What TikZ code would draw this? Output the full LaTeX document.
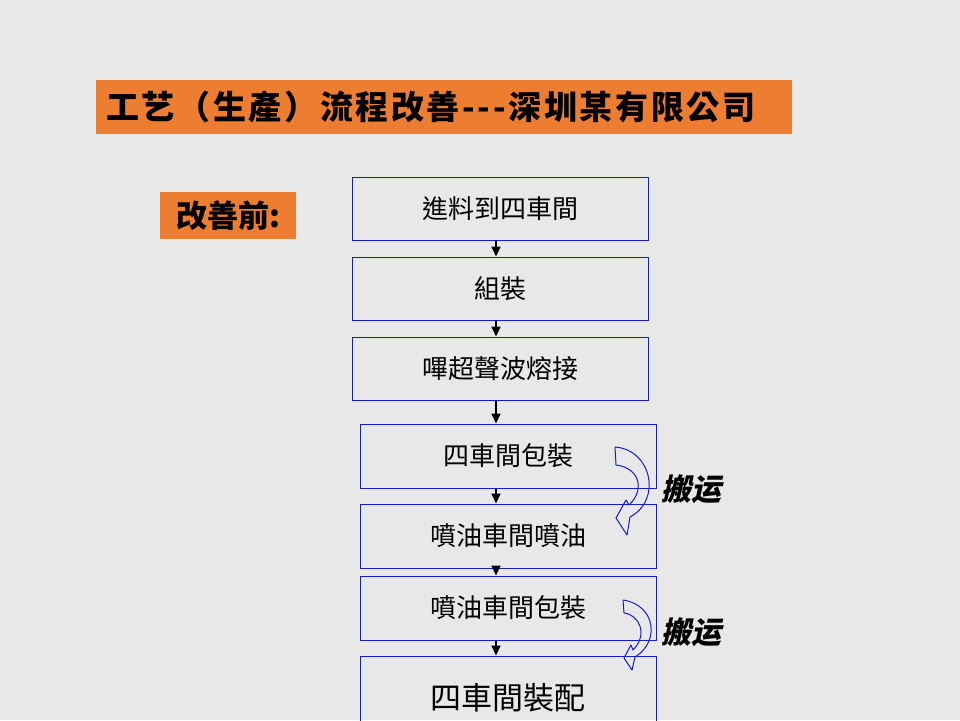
\documentclass[tikz,border=0pt]{standalone}
\usepackage{fontspec}
\usepackage{xcolor}
\usetikzlibrary{arrows.meta, positioning}
\newfontfamily\cjktc{Noto Sans CJK TC}
\newfontfamily\cjkwide[LetterSpace=8]{Noto Sans CJK TC}
\newfontfamily\cjkslant[FakeSlant=0.22]{Noto Sans CJK SC}
\definecolor{slidegray}{RGB}{232, 232, 232}
\definecolor{banner}{RGB}{237, 125, 49}
\definecolor{boxblue}{RGB}{20, 30, 200}

\begin{document}
\begin{tikzpicture}[
    x=1pt, y=-1pt,
    stepbox/.style={draw=boxblue, line width=1pt, minimum width=296pt, minimum height=64pt, inner sep=0pt, font=\cjktc\fontsize{26}{28}\selectfont},
    tag/.style={fill=banner, inner sep=0pt, font=\cjktc\bfseries},
    flow/.style={-{Triangle[length=10pt, width=9pt]}, line width=2pt},
    carry/.style={draw=boxblue, line width=1pt, line join=round},
    carrylabel/.style={font=\cjkslant\bfseries\fontsize{30}{32}\selectfont}
]
\useasboundingbox[fill=slidegray] (0,0) rectangle (960,720);

% Headings
\node[tag, minimum width=696pt, minimum height=54pt] (title) at (444,107) {};
\node[anchor=west, font=\cjkwide\bfseries\fontsize{33}{35}\selectfont, inner sep=0pt] (titletext) at (106,107) {工艺（生產）流程改善---深圳某有限公司};
\node[tag, minimum width=136pt, minimum height=47pt, font=\cjktc\bfseries\fontsize{31}{33}\selectfont] (before) at (228,215.5) {改善前:};

% Process steps
\node[stepbox, minimum height=63pt] (feed) at (500,208.5) {進料到四車間};
\node[stepbox, minimum height=63pt] (assemble) at (500,288.5) {組裝};
\node[stepbox, minimum height=63pt] (weld) at (500,368.5) {嗶超聲波熔接};
\node[stepbox] (pack4) at (508,456) {四車間包裝};
\node[stepbox] (spray) at (508,536) {噴油車間噴油};
\node[stepbox] (packspray) at (508,608) {噴油車間包裝};
\node[stepbox, minimum height=84pt, font=\cjktc\fontsize{31}{33}\selectfont] (fit) at (508,698) {四車間裝配};

% Flow arrows
\coordinate (axis) at (496,0);
\draw[flow] (feed.south -| axis) -- (assemble.north -| axis);
\draw[flow] (assemble.south -| axis) -- (weld.north -| axis);
\draw[flow] (weld.south -| axis) -- (pack4.north -| axis);
\draw[flow] (pack4.south -| axis) -- (spray.north -| axis);
\draw[flow] (spray.south -| axis) -- (packspray.north -| axis);
\draw[flow] (packspray.south -| axis) -- (fit.north -| axis);

% Carrying between workshops
\draw[carry] (615,447) .. controls (652,450) and (662,500) .. (630,517) -- (627,535) -- (616,518)
  -- (626,500) -- (629,505) .. controls (645,490) and (640,468) .. (616,465) -- cycle;
\node[carrylabel] (carry1) at (691,489) {搬运};
\draw[carry] (623,600) .. controls (656,605) and (660,642) .. (635,657) -- (632,670) -- (624,658)
  -- (631,645) -- (633,650) .. controls (648,635) and (640,615) .. (624,613) -- cycle;
\node[carrylabel] (carry2) at (691,632) {搬运};

\end{tikzpicture}
\end{document}
